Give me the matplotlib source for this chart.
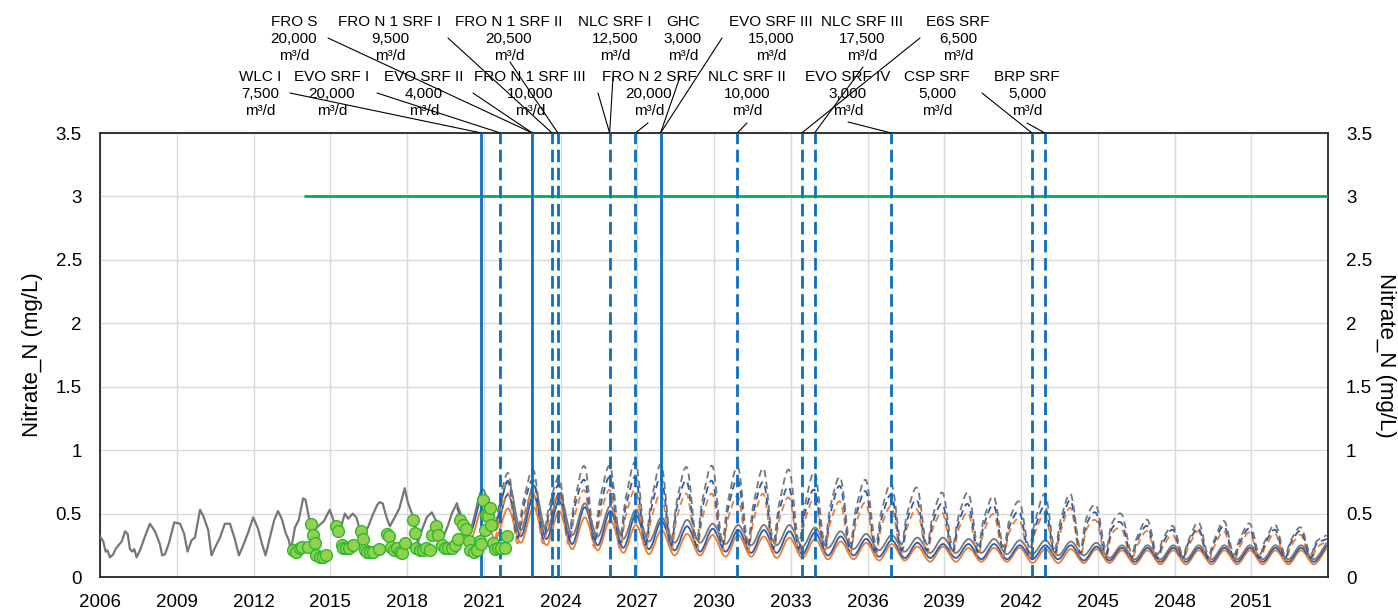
import matplotlib
matplotlib.use('Agg')
import matplotlib.pyplot as plt
from matplotlib.path import Path
from matplotlib.patches import PathPatch

plt.rcParams['font.family'] = ['Liberation Sans', 'DejaVu Sans']

# ---------------- data ----------------
# measured gray line (historical)
hist_t = [2006.00, 2006.13, 2006.22, 2006.29, 2006.39, 2006.52, 2006.61, 2006.72, 2006.85, 2006.98,
          2007.08, 2007.17, 2007.26, 2007.34, 2007.43, 2007.56, 2007.76, 2007.95, 2008.15, 2008.34,
          2008.43, 2008.54, 2008.70, 2008.90, 2009.13, 2009.29, 2009.42, 2009.58, 2009.71, 2009.91,
          2010.04, 2010.23, 2010.36, 2010.49, 2010.69, 2010.88, 2011.08, 2011.27, 2011.43, 2011.60,
          2011.79, 2011.99, 2012.18, 2012.32, 2012.47, 2012.64, 2012.81, 2012.96, 2013.12, 2013.25,
          2013.38, 2013.46, 2013.62, 2013.77, 2013.94, 2014.03, 2014.14, 2014.22, 2014.35, 2014.52,
          2014.75, 2014.98, 2015.12, 2015.26, 2015.40, 2015.57, 2015.70, 2015.88, 2016.02, 2016.16,
          2016.30, 2016.47, 2016.66, 2016.84, 2016.94, 2017.05, 2017.20, 2017.33, 2017.52, 2017.70,
          2017.91, 2018.03, 2018.19, 2018.30, 2018.42, 2018.60, 2018.77, 2018.97, 2019.12, 2019.28,
          2019.45, 2019.59, 2019.75, 2019.95]
hist_v = [0.32, 0.28, 0.20, 0.21, 0.155, 0.18, 0.22, 0.25, 0.28, 0.36,
          0.34, 0.22, 0.20, 0.22, 0.155, 0.21, 0.32, 0.42, 0.36, 0.26,
          0.17, 0.18, 0.27, 0.43, 0.42, 0.34, 0.20, 0.29, 0.31, 0.53,
          0.48, 0.37, 0.17, 0.23, 0.31, 0.42, 0.42, 0.30, 0.17, 0.25,
          0.35, 0.47, 0.38, 0.27, 0.17, 0.31, 0.45, 0.52, 0.45, 0.35,
          0.29, 0.21, 0.39, 0.45, 0.62, 0.61, 0.50, 0.40, 0.36, 0.40,
          0.44, 0.53, 0.45, 0.37, 0.38, 0.50, 0.46, 0.50, 0.47, 0.37,
          0.36, 0.39, 0.49, 0.57, 0.59, 0.58, 0.47, 0.40, 0.47, 0.54,
          0.70, 0.59, 0.50, 0.45, 0.27, 0.38, 0.47, 0.51, 0.45, 0.37,
          0.33, 0.40, 0.50, 0.58]

# observed samples (green dots)
obs_t = [2013.55, 2013.68, 2013.81, 2013.90, 2014.14, 2014.23, 2014.31, 2014.40, 2014.46, 2014.59,
         2014.72, 2014.83, 2015.22, 2015.31, 2015.44, 2015.50, 2015.61, 2015.74, 2015.90, 2016.22,
         2016.29, 2016.35, 2016.42, 2016.55, 2016.68, 2016.91, 2017.22, 2017.30, 2017.39, 2017.48,
         2017.59, 2017.72, 2017.82, 2017.91, 2018.24, 2018.30, 2018.37, 2018.50, 2018.63, 2018.76,
         2018.89, 2018.96, 2019.13, 2019.22, 2019.35, 2019.48, 2019.61, 2019.74, 2019.87, 2020.00,
         2020.06, 2020.19, 2020.30, 2020.41, 2020.48, 2020.61, 2020.74, 2020.84, 2020.91, 2020.97,
         2021.04, 2021.10, 2021.17, 2021.23, 2021.30, 2021.37, 2021.43, 2021.56, 2021.69, 2021.82,
         2021.89]
obs_v = [0.21, 0.20, 0.23, 0.24, 0.24, 0.42, 0.33, 0.27, 0.17, 0.16,
         0.16, 0.17, 0.40, 0.36, 0.25, 0.23, 0.23, 0.23, 0.25, 0.36,
         0.30, 0.21, 0.20, 0.20, 0.20, 0.22, 0.34, 0.32, 0.24, 0.21,
         0.23, 0.20, 0.19, 0.27, 0.45, 0.35, 0.23, 0.21, 0.21, 0.23,
         0.21, 0.33, 0.40, 0.33, 0.25, 0.23, 0.23, 0.23, 0.25, 0.30,
         0.45, 0.41, 0.38, 0.28, 0.21, 0.20, 0.21, 0.28, 0.26, 0.61,
         0.37, 0.49, 0.48, 0.54, 0.41, 0.27, 0.22, 0.23, 0.23, 0.23,
         0.32]

# projections, solid scenarios: winter peak per year (2019..2053), summer low per year (2020..2053)
peak_years = list(range(2019, 2054))
low_years = list(range(2020, 2054))
solid_gray_peak = [0.58, 0.69, 0.76, 0.72, 0.66, 0.58, 0.56, 0.53, 0.47, 0.45, 0.42, 0.41, 0.41, 0.41, 0.39,
                   0.36, 0.34, 0.33, 0.31, 0.31, 0.30, 0.30, 0.29, 0.29, 0.28, 0.27, 0.25, 0.25, 0.25, 0.25,
                   0.25, 0.25, 0.25, 0.25, 0.27]
solid_blue_peak = [0.55, 0.63, 0.65, 0.64, 0.60, 0.55, 0.52, 0.49, 0.44, 0.40, 0.38, 0.37, 0.37, 0.36, 0.35,
                   0.32, 0.30, 0.29, 0.27, 0.26, 0.26, 0.26, 0.25, 0.25, 0.25, 0.24, 0.23, 0.23, 0.23, 0.23,
                   0.23, 0.23, 0.23, 0.23, 0.25]
solid_orange_peak = [0.50, 0.54, 0.54, 0.55, 0.52, 0.47, 0.45, 0.41, 0.37, 0.34, 0.33, 0.33, 0.32, 0.31, 0.30,
                     0.28, 0.27, 0.26, 0.24, 0.24, 0.23, 0.23, 0.23, 0.22, 0.22, 0.22, 0.21, 0.21, 0.21, 0.21,
                     0.21, 0.21, 0.21, 0.21, 0.23]
solid_gray_low = [0.38, 0.42, 0.37, 0.36, 0.33, 0.32, 0.30, 0.28, 0.27, 0.27, 0.26, 0.25, 0.25, 0.24, 0.23,
                  0.22, 0.21, 0.20, 0.19, 0.19, 0.19, 0.18, 0.18, 0.17, 0.17, 0.15, 0.14, 0.14, 0.14, 0.14,
                  0.14, 0.14, 0.14, 0.14]
solid_blue_low = [0.34, 0.37, 0.32, 0.30, 0.26, 0.25, 0.23, 0.22, 0.21, 0.20, 0.20, 0.19, 0.19, 0.18, 0.17,
                  0.17, 0.16, 0.15, 0.15, 0.15, 0.14, 0.14, 0.14, 0.14, 0.13, 0.13, 0.12, 0.12, 0.12, 0.12,
                  0.12, 0.12, 0.12, 0.12]
solid_orange_low = [0.28, 0.30, 0.27, 0.25, 0.22, 0.21, 0.19, 0.18, 0.17, 0.17, 0.16, 0.16, 0.15, 0.15, 0.14,
                    0.14, 0.13, 0.13, 0.12, 0.12, 0.12, 0.12, 0.11, 0.11, 0.11, 0.11, 0.10, 0.10, 0.10, 0.10,
                    0.10, 0.10, 0.10, 0.10]

# projections, dashed scenarios: peak (2021..2053), low and spring shoulder (2022..2053)
dash_peak_years = list(range(2021, 2054))
dash_years = list(range(2022, 2054))
dash_gray_peak = [0.82, 0.84, 0.78, 0.87, 0.87, 0.90, 0.88, 0.86, 0.87, 0.86,
                  0.85, 0.84, 0.82, 0.78, 0.76, 0.73, 0.70, 0.66, 0.66, 0.63,
                  0.59, 0.65, 0.65, 0.56, 0.49, 0.45, 0.40, 0.43, 0.44, 0.42,
                  0.41, 0.39, 0.33]
dash_blue_peak = [0.75, 0.76, 0.72, 0.76, 0.78, 0.78, 0.78, 0.75, 0.75, 0.76,
                  0.74, 0.70, 0.68, 0.71, 0.67, 0.64, 0.60, 0.57, 0.57, 0.56,
                  0.51, 0.55, 0.60, 0.50, 0.42, 0.40, 0.37, 0.38, 0.40, 0.38,
                  0.37, 0.36, 0.30]
dash_orange_peak = [0.66, 0.66, 0.65, 0.68, 0.68, 0.68, 0.65, 0.65, 0.65, 0.63,
                    0.65, 0.62, 0.61, 0.59, 0.58, 0.55, 0.53, 0.50, 0.50, 0.49,
                    0.45, 0.49, 0.54, 0.44, 0.37, 0.36, 0.33, 0.36, 0.36, 0.35,
                    0.34, 0.33, 0.28]
dash_gray_low = [0.36, 0.36, 0.35, 0.33, 0.32, 0.31, 0.30, 0.30, 0.30, 0.29,
                 0.29, 0.28, 0.28, 0.27, 0.27, 0.26, 0.26, 0.25, 0.25, 0.24,
                 0.24, 0.23, 0.23, 0.22, 0.19, 0.18, 0.18, 0.18, 0.18, 0.18,
                 0.18, 0.18]
dash_blue_low = [0.31, 0.31, 0.30, 0.28, 0.27, 0.26, 0.25, 0.25, 0.24, 0.24,
                 0.23, 0.23, 0.22, 0.22, 0.21, 0.21, 0.21, 0.20, 0.20, 0.20,
                 0.19, 0.19, 0.19, 0.18, 0.16, 0.15, 0.15, 0.15, 0.15, 0.15,
                 0.15, 0.15]
dash_orange_low = [0.27, 0.27, 0.26, 0.24, 0.23, 0.22, 0.21, 0.21, 0.21, 0.20,
                   0.20, 0.20, 0.19, 0.19, 0.18, 0.18, 0.18, 0.17, 0.17, 0.17,
                   0.16, 0.16, 0.16, 0.15, 0.14, 0.13, 0.13, 0.13, 0.13, 0.13,
                   0.13, 0.13]
dash_gray_mid = [0.60, 0.55, 0.60, 0.62, 0.62, 0.60, 0.60, 0.61, 0.60, 0.58,
                 0.58, 0.56, 0.56, 0.54, 0.52, 0.50, 0.48, 0.47, 0.46, 0.45,
                 0.44, 0.45, 0.46, 0.42, 0.32, 0.30, 0.29, 0.29, 0.30, 0.29,
                 0.29, 0.28]
dash_blue_mid = [0.55, 0.50, 0.55, 0.55, 0.55, 0.54, 0.55, 0.55, 0.54, 0.52,
                 0.52, 0.50, 0.50, 0.48, 0.46, 0.45, 0.43, 0.42, 0.41, 0.40,
                 0.39, 0.40, 0.41, 0.38, 0.29, 0.27, 0.27, 0.27, 0.27, 0.27,
                 0.27, 0.26]
dash_orange_mid = [0.48, 0.45, 0.48, 0.48, 0.48, 0.46, 0.47, 0.47, 0.46, 0.45,
                   0.45, 0.44, 0.43, 0.42, 0.40, 0.39, 0.38, 0.37, 0.36, 0.36,
                   0.35, 0.36, 0.37, 0.34, 0.25, 0.24, 0.24, 0.24, 0.24, 0.24,
                   0.24, 0.23]

# new supply events (vertical lines)
event_years = [2020.91, 2021.65, 2022.90, 2023.67, 2023.90, 2025.92, 2026.93,
               2027.91, 2030.91, 2033.43, 2033.93, 2036.93, 2042.43, 2042.93]
event_solid = [True, False, True, False, False, False, False,
               True, False, False, False, False, False, False]

label_names = ["WLC I", "EVO SRF I", "FRO S", "EVO SRF II", "FRO N 1 SRF I", "FRO N 1 SRF II",
               "FRO N 1 SRF III", "NLC SRF I", "FRO N 2 SRF", "GHC", "EVO SRF III", "NLC SRF II",
               "EVO SRF IV", "NLC SRF III", "E6S SRF", "CSP SRF", "BRP SRF"]
label_caps = ["7,500", "20,000", "20,000", "4,000", "9,500", "20,500",
              "10,000", "12,500", "20,000", "3,000", "15,000", "10,000",
              "3,000", "17,500", "6,500", "5,000", "5,000"]
label_event = [0, 1, 2, 2, 3, 4, 5, 5, 6, 7, 7, 8, 11, 10, 9, 12, 13]

threshold = 3.0
threshold_start = 2013.97

# ---------------- layout ----------------
W, H = 1398, 613
fig = plt.figure(figsize=(W / 100, H / 100), dpi=100)
ax = fig.add_axes([100 / W, 36 / H, 1228 / W, 444 / H])
x_lo, x_hi = 2006, 2054

# label placement (pixels): center x, block center y, leader start x/y
label_cx = [260, 332, 294, 424, 390, 509, 530, 615, 649, 683, 771, 747, 848, 862, 958, 937, 1027]
label_cy = [94, 94, 39, 94, 39, 39, 94, 39, 94, 39, 39, 94, 94, 39, 39, 94, 94]
leader_x = [290, 377, 328, 473, 448, 510, 598, 613, 648, 680, 722, 747, 848, 863, 920, 982, 1027]
leader_y = [93, 93, 38, 93, 38, 62, 93, 77, 123, 77, 38, 123, 122, 67, 38, 93, 123]

GRAY = '#777777'
BLUE = '#2f5ca8'
ORANGE = '#ed7d31'
VBLUE = '#0a6fc2'


def solid_series(peaks, lows):
    t, v = [peak_years[0] + 0.95], [peaks[0]]
    for i, y in enumerate(low_years):
        t += [y + 0.45, y + 0.95]
        v += [lows[i], peaks[i + 1]]
    return t, v


def dashed_series(peaks, lows, mids, start):
    t, v = [2021.45, dash_peak_years[0] + 0.95], [start, peaks[0]]
    for i, y in enumerate(dash_years):
        t += [y + 0.3, y + 0.55, y + 0.95]
        v += [lows[i], mids[i], peaks[i + 1]]
    return t, v


def smooth_line(t, v, **kw):
    # Excel style "smoothed line": cubic bezier through the points
    n = len(t)
    verts = [(t[0], v[0])]
    codes = [Path.MOVETO]
    for i in range(n - 1):
        p0 = (t[max(i - 1, 0)], v[max(i - 1, 0)])
        p1 = (t[i], v[i])
        p2 = (t[i + 1], v[i + 1])
        p3 = (t[min(i + 2, n - 1)], v[min(i + 2, n - 1)])
        c1 = (p1[0] + (p2[0] - p0[0]) / 6, p1[1] + (p2[1] - p0[1]) / 6)
        c2 = (p2[0] - (p3[0] - p1[0]) / 6, p2[1] - (p3[1] - p1[1]) / 6)
        verts += [c1, c2, p2]
        codes += [Path.CURVE4] * 3
    ax.add_patch(PathPatch(Path(verts, codes), fill=False, **kw))


ax.set_axisbelow(True)
ax.grid(True, color='#d9d9d9', lw=1)

for pk, lo, c in [(solid_orange_peak, solid_orange_low, ORANGE),
                  (solid_blue_peak, solid_blue_low, BLUE),
                  (solid_gray_peak, solid_gray_low, GRAY)]:
    t, v = solid_series(pk, lo)
    smooth_line(t, v, edgecolor=c, lw=1.3, zorder=3)

for pk, lo, md, start, c in [(dash_orange_peak, dash_orange_low, dash_orange_mid, solid_orange_low[1], ORANGE),
                             (dash_blue_peak, dash_blue_low, dash_blue_mid, solid_blue_low[1], BLUE),
                             (dash_gray_peak, dash_gray_low, dash_gray_mid, solid_gray_low[1], GRAY)]:
    t, v = dashed_series(pk, lo, md, start)
    smooth_line(t, v, edgecolor=c, lw=1.3, ls=(0, (4, 2.5)), zorder=3)

ax.plot(hist_t, hist_v, color=GRAY, lw=1.6, zorder=3)

ax.hlines(threshold, threshold_start, x_hi, color='#00b050', lw=2, zorder=3)

for yr, solid in zip(event_years, event_solid):
    ax.axvline(yr, color=VBLUE, lw=2, ls='-' if solid else (0, (4.5, 2)), zorder=4)

ax.plot(obs_t, obs_v, 'o', ms=8.5, mfc='#92d050', mec='#2eb82e', mew=1, zorder=5)

ax.set_xlim(x_lo, x_hi)
ax.set_ylim(0, 3.5)
ax.set_xticks(range(2006, 2052, 3))
ax.set_yticks([0, 0.5, 1, 1.5, 2, 2.5, 3, 3.5])
ax.set_yticklabels(['0', '0.5', '1', '1.5', '2', '2.5', '3', '3.5'])
ax.tick_params(axis='x', length=0, pad=12, labelsize=13.5)
ax.tick_params(axis='y', length=0, pad=13, labelsize=13.5)
for s in ax.spines.values():
    s.set_color('#262626')
    s.set_linewidth(1.3)
ax.set_ylabel('Nitrate_N (mg/L)', fontsize=16, va='center')
ax.yaxis.set_label_coords(-68 / 1228, 0.5)

ax2 = ax.twinx()
ax2.set_ylim(0, 3.5)
ax2.set_yticks([0, 0.5, 1, 1.5, 2, 2.5, 3, 3.5])
ax2.set_yticklabels(['0', '0.5', '1', '1.5', '2', '2.5', '3', '3.5'])
ax2.tick_params(axis='y', length=0, pad=13, labelsize=13.5)
for s in ax2.spines.values():
    s.set_visible(False)
ax2.set_ylabel('Nitrate_N (mg/L)', fontsize=16, rotation=270, va='center')
ax2.yaxis.set_label_coords(1 + 58 / 1228, 0.5)

for i, name in enumerate(label_names):
    fig.text(label_cx[i] / W, 1 - label_cy[i] / H, f"{name}\n{label_caps[i]}\nm³/d",
             ha='center', va='center', fontsize=11, linespacing=1.25)
    ax.annotate('', xy=(event_years[label_event[i]], 3.5), xycoords='data',
                xytext=(leader_x[i], H - leader_y[i]), textcoords='figure pixels',
                arrowprops=dict(arrowstyle='-', color='black', lw=0.8, shrinkA=0, shrinkB=0),
                annotation_clip=False)

fig.savefig('out.png', dpi=100)
